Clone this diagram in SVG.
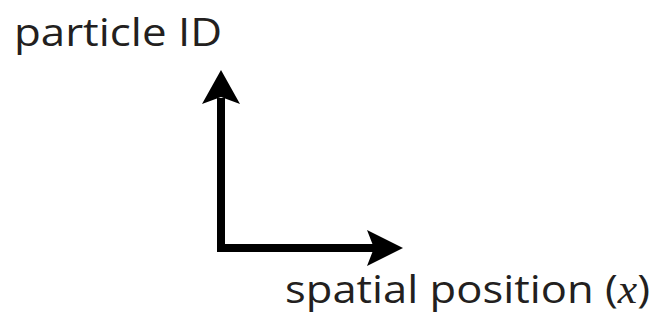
<svg xmlns="http://www.w3.org/2000/svg" width="658" height="333" viewBox="0 0 658 333">
<style>
.lbl{font-family:"Open Sans","Noto Sans","Liberation Sans",sans-serif;font-size:39px;fill:#231f20}
.ax{stroke:#000;stroke-width:8;fill:none;stroke-linejoin:miter}
.head{fill:#000}
</style>
<rect width="658" height="333" fill="#fff"/>
<g id="connectors">
<path class="ax" d="M221,98 L221,248 L374,248"/>
<polygon class="head" points="221,70 240,104 221,97 202,104"/>
<polygon class="head" points="403,248 367,230 374,248 367,266"/>
</g>
<g id="label-particle-id">
<text class="lbl" x="14" y="46" textLength="208" lengthAdjust="spacingAndGlyphs">particle ID</text>
</g>
<g id="label-spatial-position">
<text class="lbl" x="285" y="303" textLength="365" lengthAdjust="spacingAndGlyphs">spatial position (<tspan font-family="'Liberation Serif',serif" font-style="italic">x</tspan>)</text>
</g>
</svg>
